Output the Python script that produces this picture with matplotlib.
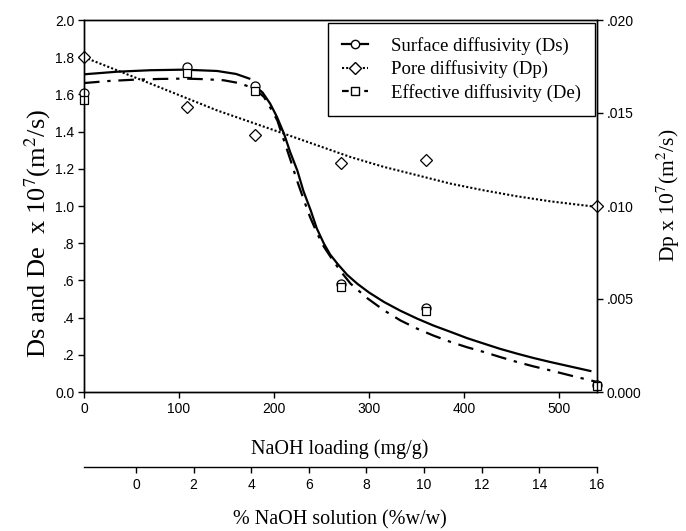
import numpy as np
import matplotlib
matplotlib.use('Agg')
import matplotlib.pyplot as plt
from matplotlib.lines import Line2D

plt.rcParams['font.family'] = 'Liberation Sans'
plt.rcParams['mathtext.fontset'] = 'stix'

# measured points
loading = [0, 108, 180, 270, 360, 540]
ds_pts = [1.607, 1.747, 1.645, 0.582, 0.453, 0.036]
de_pts = [1.568, 1.715, 1.618, 0.565, 0.435, 0.030]
dp_pts = [0.0180, 0.0153, 0.0138, 0.0123, 0.0125, 0.0100]

# fitted curves
ds_fit_a_x = [0, 35, 70, 105, 140, 160, 174]
ds_fit_a_y = [1.708, 1.722, 1.730, 1.733, 1.726, 1.71, 1.685]
ds_fit_b_x = [179, 188, 196, 203, 210.5, 217, 224.6, 231, 238.6, 245, 252.6, 259, 266.7, 277, 287.7,
              300, 315.8, 333, 350.9, 368, 386, 403, 421, 438, 456, 473, 491, 512, 533]
ds_fit_b_y = [1.649, 1.61, 1.55, 1.48, 1.389, 1.29, 1.19, 1.08, 0.977, 0.88, 0.797, 0.74, 0.69, 0.63, 0.582,
              0.535, 0.484, 0.437, 0.394, 0.357, 0.323, 0.29, 0.26, 0.232, 0.206, 0.183, 0.161, 0.137, 0.113]
de_fit_x = [0, 26, 52.6, 79, 105, 126, 147, 162, 175, 183, 189.5, 196, 203.5, 210, 217.5, 224, 231.6,
            238, 245.6, 252, 259.6, 270, 280.7, 298, 315.8, 333, 350.9, 368, 386, 403, 421, 438, 456,
            473, 491, 515, 540]
de_fit_y = [1.661, 1.672, 1.679, 1.683, 1.685, 1.682, 1.676, 1.662, 1.64, 1.615, 1.586, 1.53, 1.46, 1.36,
            1.245, 1.14, 1.03, 0.94, 0.851, 0.785, 0.726, 0.65, 0.582, 0.505, 0.439, 0.385, 0.34, 0.303,
            0.269, 0.241, 0.215, 0.188, 0.161, 0.138, 0.116, 0.085, 0.054]
dp_fit_x = [0, 35, 70, 105, 140, 175, 210.5, 245.6, 280.7, 315.8, 351, 386, 421, 456, 491, 540]
dp_fit_y = [0.0180, 0.01729, 0.01658, 0.01586, 0.01514, 0.01452, 0.01389, 0.01326, 0.01263, 0.0121,
            0.01165, 0.0112, 0.01084, 0.01052, 0.01025, 0.00995]

left_ticks = [0.0, 0.2, 0.4, 0.6, 0.8, 1.0, 1.2, 1.4, 1.6, 1.8, 2.0]
left_labels = ['0.0', '.2', '.4', '.6', '.8', '1.0', '1.2', '1.4', '1.6', '1.8', '2.0']
right_ticks = [0.0, 0.005, 0.010, 0.015, 0.020]
right_labels = ['0.000', '.005', '.010', '.015', '.020']
pct_ticks = [0, 2, 4, 6, 8, 10, 12, 14, 16]

serif = 'Liberation Serif'

fig = plt.figure(figsize=(6.86, 5.31), dpi=100)
W, H = 686, 531
x0, x1, y0, y1 = 84, 597, 20, 392
ax = fig.add_axes([x0 / W, 1 - y1 / H, (x1 - x0) / W, (y1 - y0) / H])
ax2 = ax.twinx()

# curves
ax.plot(ds_fit_a_x, ds_fit_a_y, color='black', lw=1.6)
ax.plot(ds_fit_b_x, ds_fit_b_y, color='black', lw=1.6)
ax.plot(de_fit_x, de_fit_y, color='black', lw=1.6, dashes=(7, 3.5, 1.5, 3.5))
ax2.plot(dp_fit_x, dp_fit_y, color='black', lw=1.5, linestyle=(0, (1, 1)))

# markers
ax2.plot(loading, dp_pts, 'D', ms=6.5, mfc='white', mec='black', mew=0.9, clip_on=False)
ax.plot(loading, ds_pts, 'o', ms=6.5, mfc='white', mec='black', mew=0.9, clip_on=False, zorder=3)
ax.plot(loading, de_pts, 's', ms=6, mfc='white', mec='black', mew=0.9, clip_on=False, zorder=4)

ax.set_xlim(0, 540)
ax.set_ylim(0, 2.0)
ax2.set_ylim(0, 0.020)
ax.set_xticks([0, 100, 200, 300, 400, 500])
ax.set_yticks(left_ticks)
ax.set_yticklabels(left_labels)
ax2.set_yticks(right_ticks)
ax2.set_yticklabels(right_labels)

for a in (ax, ax2):
    a.tick_params(direction='out', length=4, width=1, labelsize=10, pad=3)
    for s in a.spines.values():
        s.set_linewidth(1.0)
ax.tick_params(top=False, right=False)

# second x axis (% NaOH solution)
ax3 = ax.twiny()
ax3.set_xlim(-1.8, 16)
ax3.set_xticks(pct_ticks)
ax3.xaxis.set_ticks_position('bottom')
ax3.spines['bottom'].set_position(('axes', -(467 - y1) / (y1 - y0)))
for s in ['top', 'left', 'right']:
    ax3.spines[s].set_visible(False)
ax3.spines['bottom'].set_linewidth(1.0)
ax3.tick_params(direction='out', length=4, width=1, labelsize=10, pad=4)

# axis titles
fig.text(340 / W, 1 - 449 / H, 'NaOH loading (mg/g)', family=serif, fontsize=14.5,
         ha='center', va='center')
fig.text(340 / W, 1 - 520 / H, '% NaOH solution (%w/w)', family=serif, fontsize=14.5,
         ha='center', va='center')
fig.text(38 / W, 1 - 234 / H, r'Ds and De  x 10$^7$(m$^2$/s)', family=serif, fontsize=19,
         rotation=90, ha='center', va='center')
fig.text(668 / W, 1 - 195 / H, r'Dp x 10$^7$(m$^2$/s)', family=serif, fontsize=15.5,
         rotation=90, ha='center', va='center')

handles = [
    Line2D([], [], color='black', lw=1.6, marker='o', ms=6, mfc='white', mec='black'),
    Line2D([], [], color='black', lw=1.5, linestyle=(0, (1, 1)), marker='D', ms=6, mfc='white', mec='black'),
    Line2D([], [], color='black', lw=1.6, linestyle=(0, (3, 2)), marker='s', ms=5.5, mfc='white', mec='black'),
]
labels = ['Surface diffusivity (Ds)', 'Pore diffusivity (Dp)', 'Effective diffusivity (De)']
leg = ax2.legend(handles, labels, loc='upper right', bbox_to_anchor=(0.996, 0.993),
                 prop={'family': serif, 'size': 13.5}, frameon=True, fancybox=False,
                 edgecolor='black', framealpha=1, handlelength=1.4, handletextpad=1.2,
                 borderpad=0.75, labelspacing=0.3, borderaxespad=0)
leg.get_frame().set_linewidth(1.0)

fig.savefig('out.png', dpi=100)
